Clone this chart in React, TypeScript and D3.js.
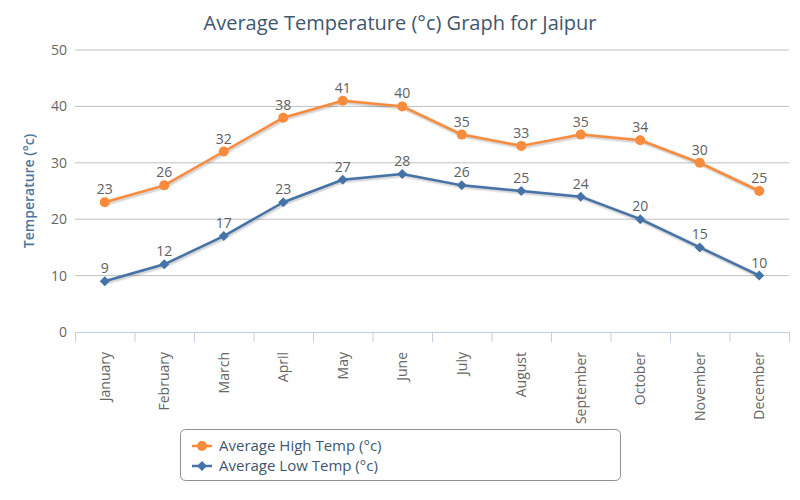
import React from "react";
import * as d3 from "d3";

const months = ["January","February","March","April","May","June","July","August","September","October","November","December"];
const highTemps = [23, 26, 32, 38, 41, 40, 35, 33, 35, 34, 30, 25];
const lowTemps = [9, 12, 17, 23, 27, 28, 26, 25, 24, 20, 15, 10];
const yTicks = [0, 10, 20, 30, 40, 50];
const seriesNames = ["Average High Temp (°c)", "Average Low Temp (°c)"];

const W = 800, H = 500;
const M = { left: 75, right: 789, top: 50, bottom: 332 };
const FONT = "'Open Sans', sans-serif";
const ORANGE = "#F98B3C";
const BLUE = "#4572A7";

export default function App() {
  const x = d3.scaleBand<string>().domain(months).range([M.left, M.right]);
  const y = d3.scaleLinear().domain([0, 50]).range([M.bottom, M.top]);
  const cx = (m: string) => (x(m) as number) + x.bandwidth() / 2;
  const line = d3.line<[string, number]>().x(d => cx(d[0])).y(d => y(d[1]));
  const hiPts: [string, number][] = months.map((m, i) => [m, highTemps[i]]);
  const loPts: [string, number][] = months.map((m, i) => [m, lowTemps[i]]);
  const diamond = (px: number, py: number, r: number) => `M${px},${py - r}L${px + r},${py}L${px},${py + r}L${px - r},${py}Z`;
  const boundaries = d3.range(months.length + 1).map(i => M.left + i * x.bandwidth());

  return (
    <svg width={W} height={H} style={{ position: "absolute", left: 0, top: 0, fontFamily: FONT }}>
      <rect width={W} height={H} fill="#fff" />
      <text x={400} y={30} textAnchor="middle" fontSize={20} fill="#3E576F">Average Temperature (°c) Graph for Jaipur</text>
      {yTicks.map(t => (
        <g key={t}>
          {t > 0 && <line x1={M.left} x2={M.right} y1={y(t)} y2={y(t)} stroke="#C0C0C0" strokeWidth={1} />}
          <text x={67} y={y(t) + 5} textAnchor="end" fontSize={14} fill="#666">{t}</text>
        </g>
      ))}
      <line x1={M.left} x2={M.right} y1={M.bottom + 0.5} y2={M.bottom + 0.5} stroke="#C0D0E0" strokeWidth={1} />
      {boundaries.map((bx, i) => (
        <line key={i} x1={bx + 0.5} x2={bx + 0.5} y1={M.bottom} y2={M.bottom + 10} stroke="#C0D0E0" strokeWidth={1} />
      ))}
      {months.map(m => (
        <text key={m} transform={`translate(${cx(m) + 5},${M.bottom + 20}) rotate(-90)`} textAnchor="end" fontSize={14} fill="#666">{m}</text>
      ))}
      <text transform={`translate(34,${(M.top + M.bottom) / 2}) rotate(-90)`} textAnchor="middle" fontSize={14} fontWeight={600} fill="#4D759E">Temperature (°c)</text>

      {[{ pts: loPts, color: BLUE, sym: "d" }, { pts: hiPts, color: ORANGE, sym: "c" }].map((s, k) => (
        <g key={k}>
          <path d={line(s.pts) as string} fill="none" stroke="#000" strokeOpacity={0.06} strokeWidth={6} transform="translate(1,1)" />
          <path d={line(s.pts) as string} fill="none" stroke="#000" strokeOpacity={0.1} strokeWidth={4} transform="translate(1,1)" />
          <path d={line(s.pts) as string} fill="none" stroke={s.color} strokeWidth={2.5} strokeLinejoin="round" />
          {s.pts.map(([m, v]) => s.sym === "c"
            ? <circle key={m} cx={cx(m)} cy={y(v)} r={5} fill={s.color} />
            : <path key={m} d={diamond(cx(m), y(v), 5)} fill={s.color} />)}
          {s.pts.map(([m, v]) => (
            <text key={"l" + m} x={cx(m)} y={y(v) - 8} textAnchor="middle" fontSize={14} fill="#606060">{v}</text>
          ))}
        </g>
      ))}

      <rect x={180.5} y={429.5} width={440} height={51} rx={5} fill="none" stroke="#909090" strokeWidth={1} />
      {seriesNames.map((n, i) => {
        const yy = 446 + i * 20;
        const col = i === 0 ? ORANGE : BLUE;
        return (
          <g key={n}>
            <line x1={192} x2={212} y1={yy} y2={yy} stroke={col} strokeWidth={2.5} />
            {i === 0 ? <circle cx={202} cy={yy} r={5} fill={col} /> : <path d={diamond(202, yy, 5)} fill={col} />}
            <text x={219} y={yy + 5} fontSize={15} fill="#3E576F">{n}</text>
          </g>
        );
      })}
    </svg>
  );
}
